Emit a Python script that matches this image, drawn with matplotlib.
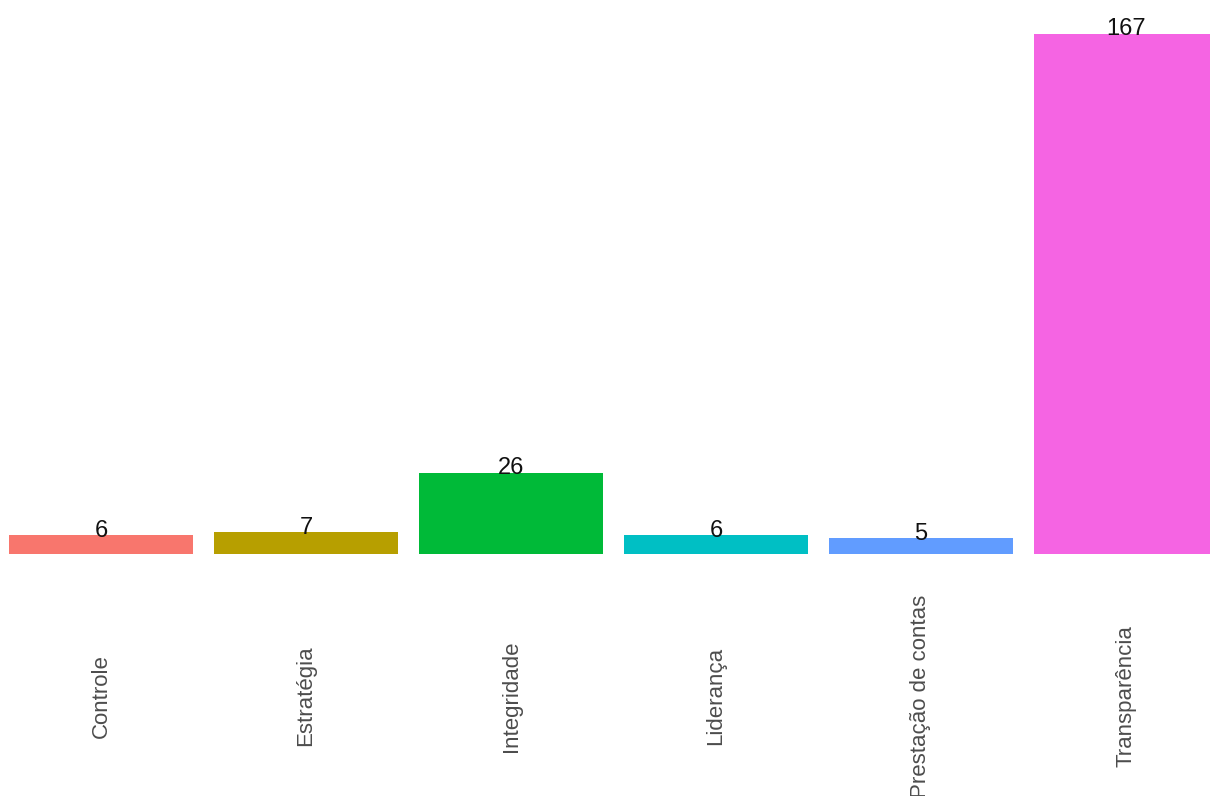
import matplotlib
matplotlib.use("Agg")
import matplotlib.pyplot as plt

categories = ["Controle", "Estratégia", "Integridade", "Liderança",
              "Prestação de contas", "Transparência"]
counts = [6, 7, 26, 6, 5, 167]
colors = ["#F8766D", "#B79F00", "#00BA38", "#00BFC4", "#619CFF", "#F564E3"]

plt.rcParams["font.family"] = ["Liberation Sans", "DejaVu Sans"]

fig = plt.figure(figsize=(12.10, 7.96), dpi=100)
ax = fig.add_axes([0.0, 1 - 580 / 796, 1.0, 572 / 796])

x = list(range(len(categories)))
ax.bar(x, counts, width=0.9, color=colors, edgecolor="none")

for xi, v in zip(x, counts):
    ax.annotate(str(v), xy=(xi, v), xytext=(0, -1), textcoords="offset points",
                ha="center", va="baseline", fontsize=17, color="#111111")

ymax = max(counts)
ax.set_ylim(-0.05 * ymax, ymax * 1.05)
ax.set_xlim(-0.493, 5.41)

ax.set_xticks(x)
ax.set_xticklabels(categories, rotation=90, fontsize=16, color="#4D4D4D")
ax.tick_params(axis="x", length=0, pad=83.5)
for lbl in ax.get_xticklabels():
    lbl.set_verticalalignment("center")
ax.set_yticks([])
for s in ax.spines.values():
    s.set_visible(False)
ax.set_facecolor("white")

fig.savefig("out.png", dpi=100, facecolor="white")
